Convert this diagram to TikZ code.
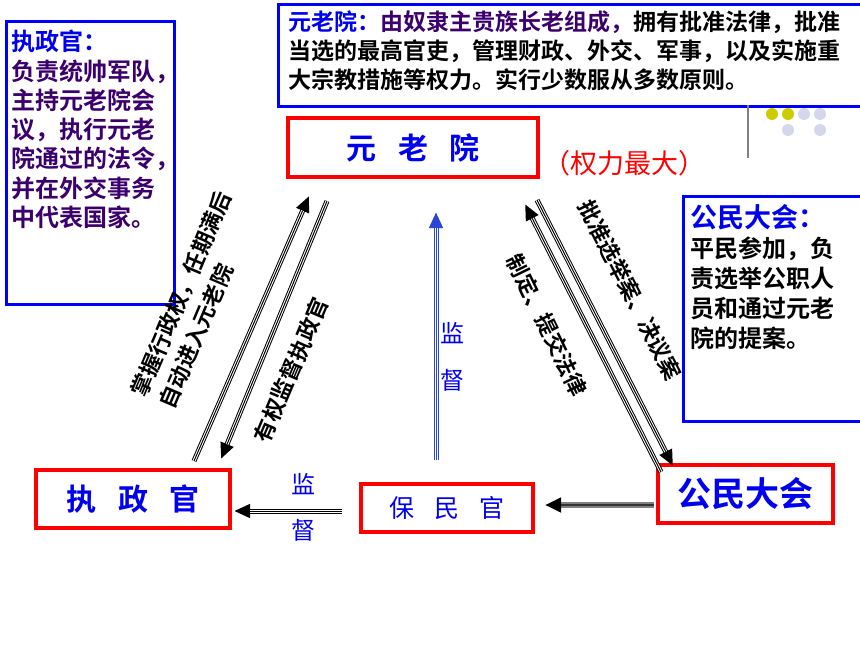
\documentclass[tikz,border=0pt]{standalone}
\usepackage{fontspec}
\newfontfamily\cjk{Noto Sans CJK SC}[BoldFont={Noto Sans CJK SC Bold}]
\usetikzlibrary{arrows.meta}

\definecolor{boxred}{RGB}{255,0,0}
\definecolor{tblue}{RGB}{0,0,240}
\definecolor{tpurple}{RGB}{60,0,110}
\definecolor{arrblue}{RGB}{40,70,215}
\definecolor{dotyel}{RGB}{204,204,0}
\definecolor{dotlav}{RGB}{214,214,236}

\begin{document}
\begin{tikzpicture}[x=1pt,y=-1pt,>={Triangle[length=16pt,width=13pt]},
  redbox/.style={draw=boxred,line width=4pt,inner sep=0pt,text=tblue,font=\cjk\bfseries\fontsize{30}{30}\selectfont},
  notebox/.style={draw=blue,line width=2.5pt,inner sep=0pt,anchor=north west},
  notetext/.style={anchor=north west,align=left,inner sep=0pt,font=\cjk\bfseries\fontsize{23}{29}\selectfont},
  lbl/.style={inner sep=0pt,font=\cjk\bfseries\fontsize{22}{30}\selectfont},
  jd/.style={inner sep=0pt,text=tblue,font=\cjk\fontsize{24}{24}\selectfont},
  tri/.style={line width=5pt,draw=#1,->,
    postaction={draw=white,line width=3pt,-,shorten >=16pt},
    postaction={draw=#1,line width=1pt,-,shorten >=16pt}},
  grey/.style={line width=6pt,draw=gray,-{Triangle[length=16pt,width=14pt,black]},
    postaction={draw=black!80,line width=1.5pt,-,shorten >=16pt}}]

  \fill[white] (0,0) rectangle (860,645);
  \useasboundingbox (0,0) rectangle (860,645);

  % notes
  \node (zzgnote) [notebox,minimum width=168,minimum height=283] at (5,20) {};
  \node (zzgtext) [notetext,text=tpurple,font=\cjk\bfseries\fontsize{24}{29.3}\selectfont] at (11,30) {{\color{tblue}执政官：}\\负责统帅军队，\\主持元老院会\\议，执行元老\\院通过的法令，\\并在外交事务\\中代表国家。};
  \node (ylynote) [notebox,minimum width=585,minimum height=102] at (277,3) {};
  \node (ylytext) [notetext] at (288,11) {{\color{tblue}元老院：}{\color{tpurple}由奴隶主贵族长老组成，}拥有批准法律，批准\\当选的最高官吏，管理财政、外交、军事，以及实施重\\大宗教措施等权力。实行少数服从多数原则。};
  \node (gmnote) [notebox,minimum width=185,minimum height=225] at (682,195) {};
  \node (gmtext) [notetext,font=\cjk\bfseries\fontsize{24}{30}\selectfont] at (690,204) {{\color{tblue}\fontsize{27}{30}\selectfont 公民大会：}\\平民参加，负\\责选举公职人\\员和通过元老\\院的提案。};

  % decoration
  \draw[gray,line width=1.5pt] (748,105) -- (748,158);
  \foreach \x in {772,788} \fill[dotyel] (\x,114) circle [radius=6pt];
  \foreach \x/\y in {804/114,820/114,788/130,820/130} \fill[dotlav] (\x,\y) circle [radius=6pt];

  % offices
  \node (yly) [redbox,minimum width=250,minimum height=59] at (413,147.5) {元\hspace{0.72em}老\hspace{0.72em}院};
  \node (zzg) [redbox,minimum width=194,minimum height=58] at (133,499) {执\hspace{0.72em}政\hspace{0.72em}官};
  \node (bmg) [redbox,minimum width=172,minimum height=48,font=\cjk\fontsize{25}{25}\selectfont] at (447,508) {保\hspace{0.8em}民\hspace{0.8em}官};
  \node (gmdh) [redbox,minimum width=175,minimum height=58,font=\cjk\bfseries\fontsize{34}{34}\selectfont] at (745.5,494) {公民大会};
  \node (qlzd) [inner sep=0pt,anchor=west,text=boxred,font=\cjk\fontsize{27}{27}\selectfont] at (543,163) {（权力最大）};

  % arrow ends
  \coordinate (zzg-a) at (194,461);
  \coordinate (zzg-b) at (221,459);
  \coordinate (yly-a) at (309,196);
  \coordinate (yly-b) at (327,201);
  \coordinate (yly-c) at (436,212);
  \coordinate (yly-d) at (525,204);
  \coordinate (yly-e) at (537,200);
  \coordinate (bmg-a) at (436,460);
  \coordinate (bmg-b) at (342,511);
  \coordinate (bmg-c) at (545,505);
  \coordinate (zzg-c) at (234,511);
  \coordinate (gmdh-a) at (661,472);
  \coordinate (gmdh-b) at (673,466);
  \coordinate (gmdh-c) at (654,505);

  \path
    (zzg-a) edge [tri=black] (yly-a)
    (yly-b) edge [tri=black] (zzg-b)
    (bmg-a) edge [tri=arrblue] (yly-c)
    (gmdh-a) edge [tri=black] (yly-d)
    (yly-e) edge [tri=black] (gmdh-b)
    (bmg-b) edge [tri=black] (zzg-c)
    (gmdh-c) edge [grey] (bmg-c);

  % labels
  \node (l1) [lbl,rotate=67,align=left] at (195,300) {掌握行政权，任期满后\\自动进入元老院};
  \node (l2) [lbl,rotate=67] at (291,370) {有权监督执政官};
  \node (l3) [lbl,rotate=-64] at (547,325) {制定、提交法律};
  \node (l4) [lbl,rotate=-63] at (630,290) {批准选举案、决议案};
  \node (jd1) [jd] at (452,333) {监};
  \node (jd2) [jd] at (452,380) {督};
  \node (jd3) [jd] at (303,484) {监};
  \node (jd4) [jd] at (303,530) {督};
\end{tikzpicture}
\end{document}
